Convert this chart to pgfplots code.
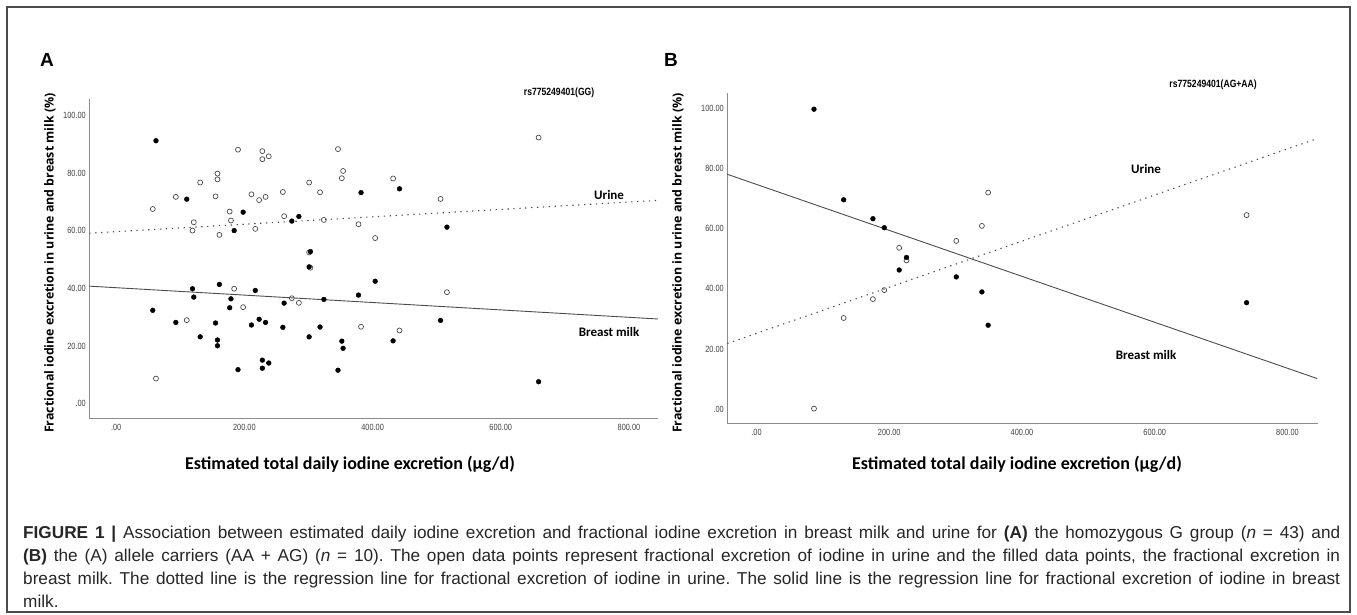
\documentclass[border=0pt]{standalone}
\usepackage{fontspec}
\setmainfont{Liberation Sans}
\newfontfamily\narrowfont[FakeStretch=0.82]{Liberation Sans}
\newfontfamily\calibri{Carlito}
\newfontfamily\opensans{Open Sans}
\usepackage{pgfplots}
\pgfplotsset{compat=1.18}

% SPSS-like look: only left/bottom axis lines, no tick marks
\pgfplotsset{spss/.style={
  scale only axis, clip=false,
  axis x line*=bottom, axis y line*=left,
  axis line style={-, draw=black!45, line width=0.8pt},
  major tick length=0pt,
  xtick={0,200,400,600,800},
  xticklabels={.00,200.00,400.00,600.00,800.00},
  ytick={0,20,40,60,80,100},
  yticklabels={.00,20.00,40.00,60.00,80.00,100.00},
  tick label style={font=\narrowfont\fontsize{9}{10}\selectfont, text=black!75},
  xticklabel style={yshift=-2pt},
},
urine/.style={only marks, mark=o, mark size=2.5pt, mark options={draw=black!75, line width=0.65pt}},
milk/.style={only marks, mark=*, mark size=2.4pt, black},
milkline/.style={black!70, line width=0.9pt},
urineline/.style={black!70, line width=1.1pt, dash pattern=on 1.3pt off 4.6pt},
}
\newcommand{\annot}{\calibri\bfseries\fontsize{13}{15}\selectfont}
\newcommand{\rsfont}{\narrowfont\bfseries\fontsize{10.5}{12}\selectfont}
\newcommand{\ytitle}{\opensans\bfseries\fontsize{12.4}{14}\selectfont}
\newcommand{\xtitle}{\calibri\bfseries\fontsize{18}{20}\selectfont}

\pgfplotstableread{
x milk urine
57 32.4 67.6
62 91.3 8.7
93 28.2 71.8
110 71.0 29.0
119 39.9 60.1
121 37.0 63.0
131 23.2 76.8
155 28.0 72.0
158 22.1 77.9
158 20.1 79.9
161 41.4 58.6
177 33.3 66.7
179 36.4 63.6
184 60.1 39.9
190 11.8 88.2
198 66.5 33.5
211 27.3 72.7
217 39.3 60.7
223 29.3 70.7
228 15.1 84.9
228 12.3 87.7
233 28.2 71.8
238 14.1 85.9
260 26.5 73.5
262 34.9 65.1
274 63.4 36.6
285 65.0 35.0
301 47.5 52.5
303 52.8 47.2
301 23.2 76.8
318 26.6 73.4
324 36.2 63.8
346 11.6 88.4
352 21.7 78.3
354 19.2 80.8
378 37.7 62.3
382 73.3 26.7
404 42.5 57.5
432 21.8 78.2
442 74.6 25.4
506 28.9 71.1
516 61.3 38.7
659 7.6 92.4
}\groupGG

\pgfplotstableread{
x milk urine
86.6 99.9 0.1
131.3 69.7 30.3
175.4 63.4 36.6
192.5 60.4 39.6
215 46.3 53.7
226 50.5 49.5
301 44.0 56.0
339.6 39.0 61.0
349 27.9 72.1
738.4 35.4 64.6
}\groupAA

\begin{document}
\begin{tikzpicture}
\path[use as bounding box] (0pt,0pt) rectangle (1357pt,-615pt);
\draw[black!70, line width=1.3pt] (7pt,-7pt) rectangle (1350pt,-612pt);

% panel letters
\node[font=\bfseries\fontsize{19}{22}\selectfont] at (47pt,-60pt) {A};
\node[font=\bfseries\fontsize{19}{22}\selectfont] at (671pt,-60pt) {B};

% panel A
\begin{axis}[spss, at={(89.3pt,-418.3pt)}, anchor=south west,
  width=568.5pt, height=319pt,
  xmin=-42, xmax=845, ymin=-5.1, ymax=105.7]
\addplot[urine] table[x=x, y=urine] {\groupGG};
\addplot[milk] table[x=x, y=milk] {\groupGG};
\addplot[milkline] coordinates {(-42,40.8) (845,29.4)};
\addplot[urineline] coordinates {(-42,59.2) (845,70.6)};
\node[font=\annot] at (axis cs:769,72.3) {Urine};
\node[font=\annot] at (axis cs:769,25) {Breast milk};
\node[font=\rsfont] at (axis cs:691,108) {rs775249401(GG)};
\end{axis}

% panel B
\begin{axis}[spss, at={(727.3pt,-423.3pt)}, anchor=south west,
  width=590.7pt, height=330pt,
  xmin=-44, xmax=846, ymin=-4.8, ymax=105.2]
\addplot[urine] table[x=x, y=urine] {\groupAA};
\addplot[milk] table[x=x, y=milk] {\groupAA};
\addplot[milkline] coordinates {(-44,78.2) (845,10.1)};
\addplot[urineline] coordinates {(-44,21.8) (842,89.9)};
\node[font=\annot] at (axis cs:587,80) {Urine};
\node[font=\annot] at (axis cs:587,18) {Breast milk};
\node[font=\rsfont] at (axis cs:688,108) {rs775249401(AG+AA)};
\end{axis}

% axis titles
\node[rotate=90, font=\ytitle] at (50pt,-263pt)
  {Fractional iodine excretion in urine and breast milk (\%)};
\node[rotate=90, font=\ytitle] at (678pt,-263pt)
  {Fractional iodine excretion in urine and breast milk (\%)};
\node[font=\xtitle] at (350pt,-464pt)
  {Estimated total daily iodine excretion (μg/d)};
\node[font=\xtitle] at (1017pt,-464pt)
  {Estimated total daily iodine excretion (μg/d)};

% caption
\node[anchor=north west, inner sep=0pt, text width=1317pt, align=justify,
  font=\fontsize{17.2}{22.9}\selectfont\frenchspacing, text=black!85] at (23pt,-526pt)
  {\textbf{FIGURE 1 |} Association between estimated daily iodine excretion and fractional iodine excretion in breast milk and urine for \textbf{(A)} the homozygous G group (\textit{n} = 43) and\linebreak
  \textbf{(B)} the (A) allele carriers (AA + AG) (\textit{n} = 10). The open data points represent fractional excretion of iodine in urine and the filled data points, the fractional excretion in\linebreak
  breast milk. The dotted line is the regression line for fractional excretion of iodine in urine. The solid line is the regression line for fractional excretion of iodine in breast\linebreak
  milk.};
\end{tikzpicture}
\end{document}
